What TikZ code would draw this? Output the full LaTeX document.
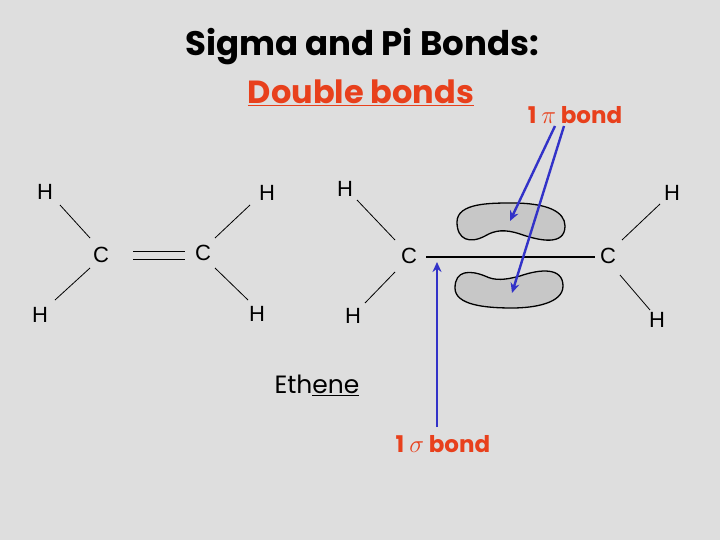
\documentclass[tikz,border=0pt]{standalone}
\usepackage{fontspec}
\usetikzlibrary{arrows.meta}
\setmainfont{Liberation Sans}
\newfontfamily\comic{Poppins}
\begin{document}
\begin{tikzpicture}[x=1pt,y=-1pt,
  atom/.style={font=\fontsize{22}{22}\selectfont,inner sep=1pt},
  bond/.style={line width=0.8pt},
  lobe/.style={draw=black,line width=1.3pt,fill=black!22},
  arr/.style={draw={rgb,255:red,50;green,50;blue,200},line width=2.4pt,-{Stealth[length=10pt,width=9pt]}},
  lbl/.style={text={rgb,255:red,232;green,64;blue,28},inner sep=0pt}]
\fill[black!13] (0,0) rectangle (720,540);
\useasboundingbox (0,0) rectangle (720,540);
\node[font=\comic\bfseries\fontsize{34}{34}\selectfont] (t1) at (362,47) {Sigma and Pi Bonds:};
\node[lbl,font=\comic\bfseries\fontsize{32}{32}\selectfont] (t2) at (361,93) {\underline{Double bonds}};
\node[lbl,font=\comic\bfseries\fontsize{23}{23}\selectfont] (pi) at (575,115) {1 $\pi$ bond};
\node[font=\comic\fontsize{25}{25}\selectfont,inner sep=0pt] (eth) at (317,385) {Eth\underline{ene}};
\node[lbl,font=\comic\bfseries\fontsize{23}{23}\selectfont] (sig) at (443,444) {1 $\sigma$ bond};
% left ethene
\node[atom] (h1) at (45,192) {H};
\node[atom] (h2) at (267,193) {H};
\node[atom] (c1) at (101,255) {C};
\node[atom] (c2) at (203,253) {C};
\node[atom] (h3) at (40,315) {H};
\node[atom] (h4) at (257,314) {H};
\draw[bond] (60,205) -- (90,238) (250,205) -- (215,238) (55,300) -- (90,268) (215,268) -- (248,300);
\draw[bond] (133,251) -- (185,251) (133,259) -- (185,259);
% right ethene
\node[atom] (h5) at (345,189) {H};
\node[atom] (c3) at (409,256) {C};
\node[atom] (h6) at (353,316) {H};
\node[atom] (c4) at (608,256) {C};
\node[atom] (h7) at (672,193) {H};
\node[atom] (h8) at (657,320) {H};
\draw[bond] (357,200) -- (395,240) (395,272) -- (365,303) (622,240) -- (660,204) (620,275) -- (650,310);
\draw[line width=1.3pt] (426,257) -- (595,257);
\draw[lobe] (457,222) .. controls (457,203) and (490,203) .. (512,203) .. controls (548,203) and (565,212) .. (565,226)
  .. controls (565,246) and (540,241) .. (520,234) .. controls (505,229) and (495,230) .. (485,236)
  .. controls (470,244) and (457,240) .. (457,222) -- cycle;
\draw[lobe] (455,288) .. controls (455,270) and (470,270) .. (485,276) .. controls (495,281) and (505,280) .. (520,276)
  .. controls (540,269) and (563,267) .. (563,286) .. controls (563,303) and (535,308) .. (512,308)
  .. controls (485,308) and (455,305) .. (455,288) -- cycle;
\coordinate (a1) at (510,221);
\coordinate (a2) at (512,293);
\coordinate (a3) at (437,262);
\draw[arr] (555,126) -- (a1);
\draw[arr] (564,126) -- (a2);
\draw[arr] (437,427) -- (a3);
\end{tikzpicture}
\end{document}
